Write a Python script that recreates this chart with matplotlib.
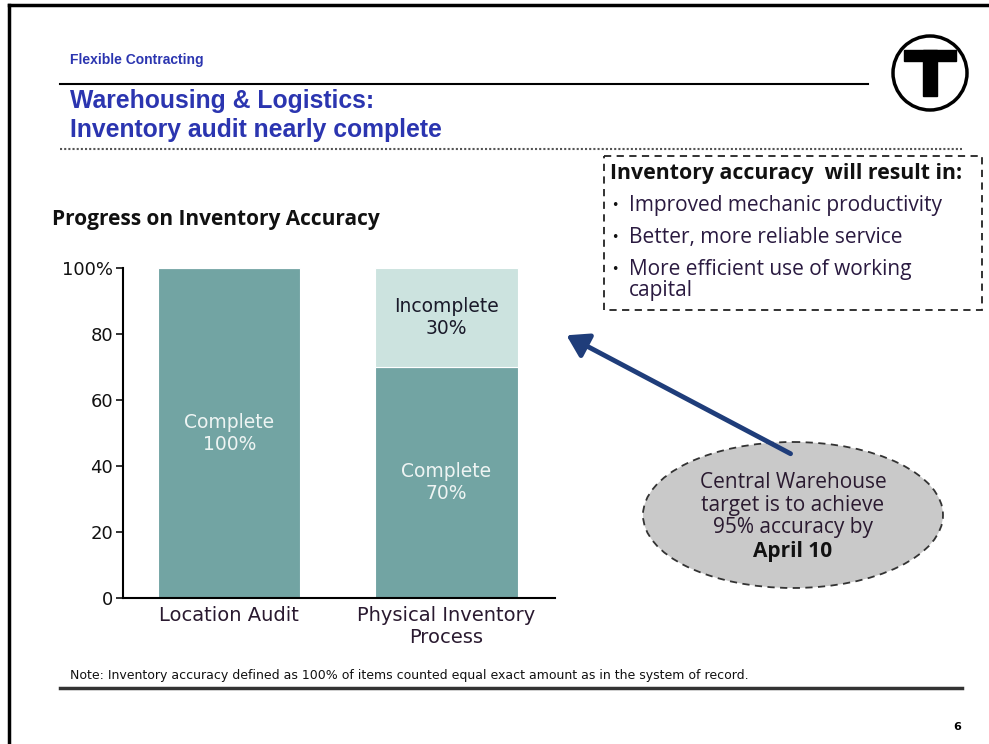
import matplotlib.pyplot as plt
from matplotlib.patches import Ellipse, Rectangle, Circle, FancyArrowPatch

# data
categories = ["Location Audit", "Physical Inventory\nProcess"]
complete = [100, 70]
incomplete = [0, 30]
yticks = [0, 20, 40, 60, 80, 100]
ytick_labels = ["0", "20", "40", "60", "80", "100%"]
benefits = ["Improved mechanic productivity",
            "Better, more reliable service",
            "More efficient use of working\ncapital"]
callout = ["Central Warehouse", "target is to achieve", "95% accuracy by"]

W, H = 989, 744
DARK = "#72a4a3"
LIGHT = "#cce3df"
BLUE = "#2b35b0"
SANS = "Open Sans"

fig = plt.figure(figsize=(W / 100, H / 100), dpi=100)

# overlay axes in pixel coords
bg = fig.add_axes([0, 0, 1, 1], zorder=0)
bg.set_xlim(0, W)
bg.set_ylim(H, 0)
bg.axis("off")

# page frame
bg.plot([9, 9], [5, H], color="black", lw=2.5)
bg.plot([9, W], [5, 5], color="black", lw=2.5)

# header
bg.text(70, 60, "Flexible Contracting", color=BLUE, fontsize=10, fontweight="bold",
        family="Liberation Sans", va="center")
bg.plot([60, 868], [84, 84], color="black", lw=1.5)
bg.text(70, 101, "Warehousing & Logistics:", color=BLUE, fontsize=17.8, fontweight="bold",
        family="Liberation Sans", va="center")
bg.text(70, 130, "Inventory audit nearly complete", color=BLUE, fontsize=17.8, fontweight="bold",
        family="Liberation Sans", va="center")
bg.plot([60, 962], [149, 149], color="#555555", lw=1.5, ls=(0, (1, 1)))

# logo
bg.add_patch(Circle((930, 73), 37, fill=False, ec="black", lw=2.5))
bg.add_patch(Rectangle((904, 50), 52, 11, color="black"))
bg.add_patch(Rectangle((923, 50), 14, 46, color="black"))

# benefits box
bg.add_patch(Rectangle((604, 156), 378, 154, fill=False, ec="#222222", lw=1.3,
                       ls=(0, (4, 3))))
bg.text(610, 173, "Inventory accuracy  will result in:", fontsize=15.3, fontweight="bold",
        family=SANS, va="center", color="#111111")
for yb, yt, txt in zip([205, 238, 269], [205, 238, 280], benefits):
    bg.text(611, yb, "•", fontsize=9, va="center", color="#111111")
    bg.text(629, yt, txt, fontsize=15, family=SANS, va="center", color="#2a1a40",
            linespacing=1.0)

# chart title
bg.text(52, 219, "Progress on Inventory Accuracy", fontsize=15, fontweight="bold",
        family=SANS, va="center", color="#111111")

# callout
bg.add_patch(Ellipse((793, 515), 300, 146, fc="#c9c9c9", ec="#333333", lw=1.3,
                     ls=(0, (4, 3))))
for y, line in zip([483, 505, 528], callout):
    bg.text(793, y, line, fontsize=15, family=SANS, ha="center", va="center",
            color="#2a1a30")
bg.text(793, 551, "April 10", fontsize=15, fontweight="bold", family=SANS,
        ha="center", va="center", color="#111111")
bg.add_patch(FancyArrowPatch((793, 455), (564, 334), arrowstyle="-|>,head_length=8,head_width=5",
                             mutation_scale=1.6, color="#1f3d7a", lw=3.5))

# footer
bg.text(70, 675, "Note: Inventory accuracy defined as 100% of items counted equal exact amount as in the system of record.",
        fontsize=9, family="DejaVu Sans", va="center", color="#111111")
bg.plot([60, 962], [688, 688], color="#333333", lw=2.5)
bg.text(957, 727, "6", fontsize=8, family="DejaVu Sans", va="center", ha="center", fontweight="bold")

# chart
x0, x1, y0, y1 = 123, 555, 598, 268
ax = fig.add_axes([x0 / W, 1 - y0 / H, (x1 - x0) / W, (y0 - y1) / H], zorder=1)
ax.patch.set_alpha(0)
pos = list(range(len(categories)))
ax.bar(pos, complete, width=0.655, color=DARK, edgecolor="white", linewidth=0.8)
ax.bar(pos, incomplete, bottom=complete, width=0.655, color=LIGHT, edgecolor="white", linewidth=0.8)
ax.set_xlim(-0.49, 1.5)
ax.set_ylim(0, 100)
ax.set_yticks(yticks)
ax.set_yticklabels(ytick_labels)
ax.set_xticks(pos)
ax.set_xticklabels(categories, linespacing=1.2)
ax.tick_params(axis="y", length=5, width=1.2, labelsize=13, pad=2, colors="#111111")
ax.tick_params(axis="x", length=0, labelsize=14, pad=6, labelcolor="#2a1a30")
for s in ["top", "right"]:
    ax.spines[s].set_visible(False)
ax.spines["left"].set_linewidth(1.5)
ax.spines["bottom"].set_linewidth(1.5)

for i in pos:
    ax.text(i, complete[i] / 2, f"Complete\n{complete[i]}%", ha="center", va="center",
            color="#eef4f3", fontsize=13.5, linespacing=1.2)
    if incomplete[i] > 0:
        ax.text(i, complete[i] + incomplete[i] / 2, f"Incomplete\n{incomplete[i]}%",
                ha="center", va="center", color="#1a1a2a", fontsize=13.5, linespacing=1.2)

fig.savefig("out.png", dpi=100)
